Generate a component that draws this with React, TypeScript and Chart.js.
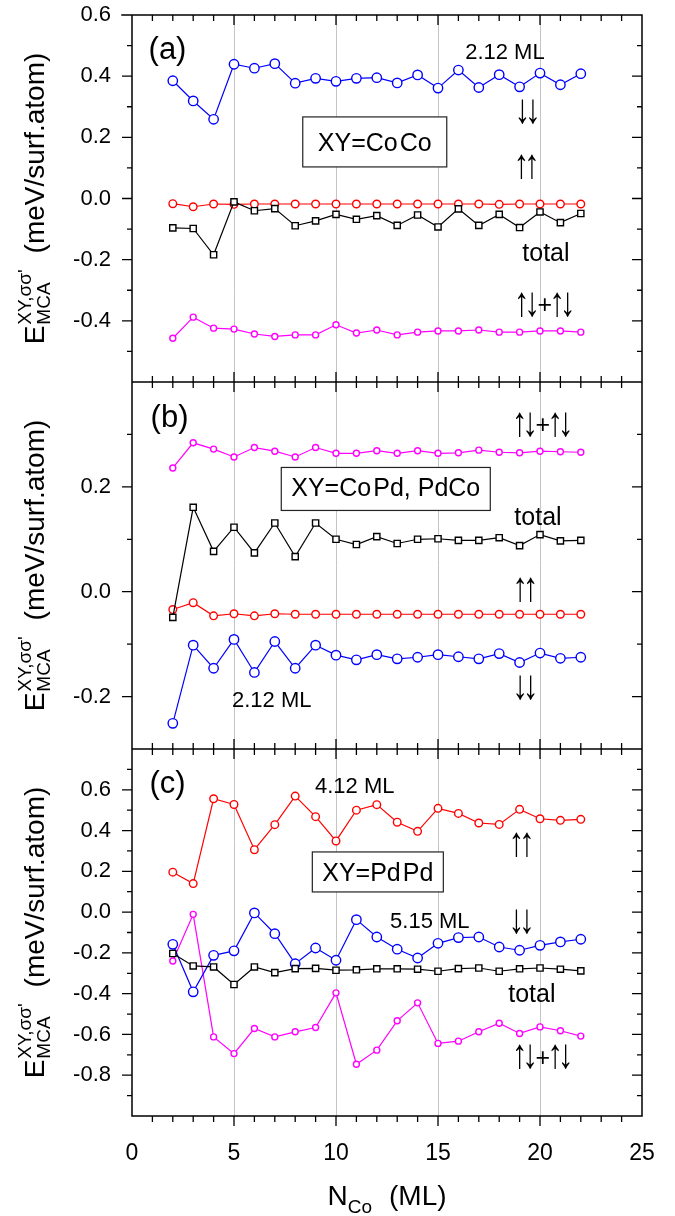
import { useEffect, useRef } from "react";
import { Chart, registerables } from "chart.js";

Chart.register(...registerables);

const FONT = '"Liberation Sans", Arial, Helvetica, sans-serif';

// ---------------- data ----------------
const nCo = [2, 3, 4, 5, 6, 7, 8, 9, 10, 11, 12, 13, 14, 15, 16, 17, 18, 19, 20, 21, 22];

// (a) XY = CoCo
const coCoDownDown = [0.385, 0.319, 0.259, 0.439, 0.426, 0.441, 0.377, 0.393, 0.383, 0.393, 0.395, 0.378, 0.404, 0.361, 0.42, 0.363, 0.405, 0.365, 0.41, 0.372, 0.408];
const coCoUpUp = [-0.017, -0.027, -0.018, -0.019, -0.018, -0.018, -0.018, -0.018, -0.018, -0.018, -0.018, -0.018, -0.018, -0.018, -0.018, -0.018, -0.019, -0.018, -0.018, -0.018, -0.018];
const coCoTotal = [-0.096, -0.098, -0.184, -0.011, -0.04, -0.033, -0.089, -0.073, -0.052, -0.068, -0.056, -0.088, -0.054, -0.093, -0.034, -0.088, -0.052, -0.095, -0.044, -0.079, -0.049];
const coCoMixed = [-0.457, -0.388, -0.424, -0.427, -0.443, -0.451, -0.446, -0.446, -0.413, -0.44, -0.43, -0.446, -0.437, -0.433, -0.433, -0.43, -0.437, -0.437, -0.433, -0.433, -0.437];

// (b) XY = CoPd, PdCo
const coPdMixed = [0.236, 0.284, 0.272, 0.257, 0.275, 0.268, 0.257, 0.275, 0.264, 0.264, 0.269, 0.264, 0.269, 0.264, 0.265, 0.27, 0.266, 0.265, 0.268, 0.267, 0.266];
const coPdTotal = [-0.049, 0.161, 0.077, 0.123, 0.074, 0.131, 0.067, 0.131, 0.1, 0.09, 0.105, 0.092, 0.1, 0.101, 0.098, 0.098, 0.103, 0.088, 0.109, 0.097, 0.098];
const coPdUpUp = [-0.034, -0.021, -0.046, -0.042, -0.046, -0.042, -0.043, -0.043, -0.043, -0.043, -0.043, -0.043, -0.043, -0.043, -0.043, -0.043, -0.043, -0.043, -0.043, -0.043, -0.043];
const coPdDownDown = [-0.251, -0.102, -0.146, -0.091, -0.154, -0.095, -0.146, -0.102, -0.121, -0.13, -0.12, -0.128, -0.125, -0.12, -0.124, -0.128, -0.118, -0.135, -0.117, -0.127, -0.125];

// (c) XY = PdPd
const pdPdUpUp = [0.196, 0.14, 0.556, 0.528, 0.306, 0.429, 0.569, 0.468, 0.349, 0.5, 0.527, 0.441, 0.396, 0.509, 0.484, 0.437, 0.43, 0.504, 0.458, 0.45, 0.455];
const pdPdDownDown = [-0.158, -0.391, -0.212, -0.19, -0.004, -0.106, -0.253, -0.176, -0.236, -0.037, -0.122, -0.182, -0.225, -0.153, -0.125, -0.122, -0.171, -0.187, -0.163, -0.146, -0.133];
const pdPdTotal = [-0.203, -0.264, -0.269, -0.355, -0.269, -0.297, -0.277, -0.276, -0.285, -0.283, -0.278, -0.278, -0.28, -0.29, -0.277, -0.274, -0.29, -0.278, -0.274, -0.28, -0.288];
const pdPdMixed = [-0.24, -0.011, -0.612, -0.694, -0.571, -0.612, -0.587, -0.566, -0.396, -0.746, -0.677, -0.533, -0.445, -0.644, -0.633, -0.587, -0.545, -0.595, -0.563, -0.582, -0.608];

// tick labels
const xTickLabels = ["0", "5", "10", "15", "20", "25"];
const aTickLabels = ["0.6", "0.4", "0.2", "0.0", "-0.2", "-0.4"];
const bTickLabels = ["0.2", "0.0", "-0.2"];
const cTickLabels = ["0.6", "0.4", "0.2", "0.0", "-0.2", "-0.4", "-0.6", "-0.8"];

// axis ranges
const xRange = [0, 25];
const aRange = [-0.6, 0.6];
const bRange = [-0.3, 0.4];
const cRange = [-1.0, 0.8];

// axis titles
const yTitleMain = "E";
const yTitleSub = "MCA";
const yTitleSup = "XY,\u03C3\u03C3'";
const yTitleUnit = "(meV/surf.atom)";
const xTitleMain = "N";
const xTitleSub = "Co";
const xTitleUnit = "(ML)";

// ---------------- styling ----------------
const BLUE = "#0000ff";
const RED = "#ff0000";
const MAGENTA = "#ff00ff";
const BLACK = "#000000";

const ARROW_INK_HEIGHT = 25;
const ARROW_INK_WIDTH = 7.5;
const ARROW_ADVANCE = 10.5;

type PanelId = "ya" | "yb" | "yc";

type Ann = {
  panel: PanelId;
  x: number;
  y: number;
  text: string;
  kind: "text" | "box";
  size: number;
  w?: number;
  h?: number;
};

const annotations: Ann[] = [
  { panel: "ya", x: 1.74, y: 0.482, text: "(a)", kind: "text", size: 31 },
  { panel: "ya", x: 18.28, y: 0.482, text: "2.12 ML", kind: "text", size: 22 },
  { panel: "ya", x: 11.9, y: 0.185, text: "XY=Co\u200ACo", kind: "box", size: 25, w: 144, h: 50 },
  { panel: "ya", x: 19.4, y: 0.283, text: "\u2193\u2193", kind: "text", size: 25 },
  { panel: "ya", x: 19.36, y: 0.103, text: "\u2191\u2191", kind: "text", size: 25 },
  { panel: "ya", x: 20.29, y: -0.172, text: "total", kind: "text", size: 25 },
  { panel: "ya", x: 20.24, y: -0.348, text: "\u2191\u2193+\u2191\u2193", kind: "text", size: 25 },

  { panel: "yb", x: 1.84, y: 0.329, text: "(b)", kind: "text", size: 31 },
  { panel: "yb", x: 20.14, y: 0.318, text: "\u2191\u2193+\u2191\u2193", kind: "text", size: 25 },
  { panel: "yb", x: 12.44, y: 0.196, text: "XY=Co\u200APd, PdCo", kind: "box", size: 25, w: 209, h: 43 },
  { panel: "yb", x: 19.9, y: 0.146, text: "total", kind: "text", size: 25 },
  { panel: "yb", x: 19.3, y: 0.003, text: "\u2191\u2191", kind: "text", size: 25 },
  { panel: "yb", x: 19.3, y: -0.184, text: "\u2193\u2193", kind: "text", size: 25 },
  { panel: "yb", x: 6.85, y: -0.205, text: "2.12 ML", kind: "text", size: 22 },

  { panel: "yc", x: 1.74, y: 0.623, text: "(c)", kind: "text", size: 31 },
  { panel: "yc", x: 10.92, y: 0.619, text: "4.12 ML", kind: "text", size: 22 },
  { panel: "yc", x: 19.11, y: 0.329, text: "\u2191\u2191", kind: "text", size: 25 },
  { panel: "yc", x: 12.05, y: 0.197, text: "XY=Pd\u200APd", kind: "box", size: 25, w: 131, h: 40 },
  { panel: "yc", x: 14.6, y: -0.039, text: "5.15 ML", kind: "text", size: 22 },
  { panel: "yc", x: 19.11, y: -0.048, text: "\u2193\u2193", kind: "text", size: 25 },
  { panel: "yc", x: 19.6, y: -0.392, text: "total", kind: "text", size: 25 },
  { panel: "yc", x: 20.14, y: -0.711, text: "\u2191\u2193+\u2191\u2193", kind: "text", size: 25 },
];

function series(values: number[], axis: PanelId, color: string, style: string, radius: number) {
  return {
    data: nCo.map((x, i) => ({ x, y: values[i] })),
    yAxisID: axis,
    borderColor: color,
    backgroundColor: "#ffffff",
    borderWidth: 1.2,
    pointStyle: style,
    pointRadius: radius,
    pointBorderWidth: 1.4,
    pointBorderColor: color,
    pointBackgroundColor: "#ffffff",
    tension: 0,
    fill: false,
  };
}

function fmt(v: number) {
  if (Math.abs(v) < 1e-9) return "0.0";
  return v.toFixed(1);
}

function yScale(range: number[], labels: string[], weight: number) {
  return {
    type: "linear",
    position: "left",
    stack: "panels",
    stackWeight: 1,
    weight,
    min: range[0],
    max: range[1],
    ticks: {
      stepSize: 0.1,
      autoSkip: false,
      maxTicksLimit: 40,
      padding: 21,
      color: "#000",
      font: { family: FONT, size: 22 },
      callback: (v: number) => {
        const s = fmt(Number(v));
        return labels.includes(s) ? s : "";
      },
    },
    grid: { display: false, drawTicks: false },
    border: { display: false },
    afterFit: (s: any) => {
      s.width = 132;
      s.paddingTop = 0;
      s.paddingBottom = 0;
    },
  };
}

function isArrow(ch: string) {
  return ch === "\u2191" || ch === "\u2193";
}

// draws a label whose ink is centred on (px, py); arrow glyphs are drawn tall and narrow
function drawLabel(ctx: CanvasRenderingContext2D, text: string, px: number, py: number, size: number) {
  ctx.save();
  ctx.textAlign = "left";
  ctx.textBaseline = "alphabetic";
  ctx.font = `100px ${FONT}`;
  const ref = ctx.measureText("\u2191");
  const refH = ref.actualBoundingBoxAscent + ref.actualBoundingBoxDescent;
  const refW = ref.actualBoundingBoxLeft + ref.actualBoundingBoxRight;
  const arrowSize = (ARROW_INK_HEIGHT / refH) * 100;
  const arrowScale = ARROW_INK_WIDTH / ((refW * arrowSize) / 100);

  const runs: { arrow: boolean; s: string }[] = [];
  for (const ch of text) {
    const a = isArrow(ch);
    const last = runs[runs.length - 1];
    if (a || !last || last.arrow) runs.push({ arrow: a, s: ch });
    else last.s += ch;
  }
  const items = runs.map((r) => {
    const font = `${r.arrow ? arrowSize : size}px ${FONT}`;
    ctx.font = font;
    const m = ctx.measureText(r.s);
    const w = r.arrow ? ARROW_ADVANCE : m.width;
    const base = py + (m.actualBoundingBoxAscent - m.actualBoundingBoxDescent) / 2;
    const inkMid = (m.actualBoundingBoxRight - m.actualBoundingBoxLeft) / 2;
    return { ...r, font, w, base, inkMid };
  });
  const total = items.reduce((s, it) => s + it.w, 0);
  let x = px - total / 2;
  for (const it of items) {
    ctx.font = it.font;
    if (it.arrow) {
      ctx.save();
      ctx.translate(x + it.w / 2 - it.inkMid * arrowScale, it.base);
      ctx.scale(arrowScale, 1);
      ctx.fillText(it.s, 0, 0);
      ctx.restore();
    } else {
      ctx.fillText(it.s, x, it.base);
    }
    x += it.w;
  }
  ctx.restore();
}

function drawYTitle(ctx: CanvasRenderingContext2D, cx: number, cy: number) {
  const big = `28px ${FONT}`;
  const small = `19px ${FONT}`;
  ctx.save();
  ctx.translate(cx, cy);
  ctx.rotate(-Math.PI / 2);
  ctx.fillStyle = "#000";
  ctx.textAlign = "left";
  ctx.textBaseline = "alphabetic";
  ctx.font = big;
  const wE = ctx.measureText(yTitleMain).width;
  const wUnit = ctx.measureText(yTitleUnit).width;
  ctx.font = small;
  const wSub = ctx.measureText(yTitleSub).width;
  const wSup = ctx.measureText(yTitleSup).width;
  const wBlock = Math.max(wSub, wSup);
  const gap = 16;
  const total = wE + 1 + wBlock + gap + wUnit;
  let x = -total / 2;
  ctx.font = big;
  ctx.fillText(yTitleMain, x, 0);
  x += wE + 1;
  ctx.font = small;
  ctx.fillText(yTitleSup, x, -13);
  ctx.fillText(yTitleSub, x, 6);
  x += wBlock + gap;
  ctx.font = big;
  ctx.fillText(yTitleUnit, x, 0);
  ctx.restore();
}

function drawXTitle(ctx: CanvasRenderingContext2D, cx: number, baseline: number) {
  const big = `28px ${FONT}`;
  const small = `19px ${FONT}`;
  ctx.save();
  ctx.fillStyle = "#000";
  ctx.textAlign = "left";
  ctx.textBaseline = "alphabetic";
  ctx.font = big;
  const wN = ctx.measureText(xTitleMain).width;
  const wUnit = ctx.measureText(xTitleUnit).width;
  ctx.font = small;
  const wSub = ctx.measureText(xTitleSub).width;
  const gap = 17;
  const total = wN + wSub + gap + wUnit;
  let x = cx - total / 2;
  ctx.font = big;
  ctx.fillText(xTitleMain, x, baseline);
  x += wN;
  ctx.font = small;
  ctx.fillText(xTitleSub, x, baseline + 8);
  x += wSub + gap;
  ctx.font = big;
  ctx.fillText(xTitleUnit, x, baseline);
  ctx.restore();
}

const framePlugin = {
  id: "frame",
  afterDatasetsDraw(chart: any) {
    const ctx: CanvasRenderingContext2D = chart.ctx;
    const { left, right } = chart.chartArea;
    const xs = chart.scales.x;
    const ids: PanelId[] = ["ya", "yb", "yc"];
    const scales = ids.map((id) => chart.scales[id]);
    const tops = scales.map((s: any) => s.top);
    const bottom = scales[2].bottom;
    ctx.save();
    ctx.strokeStyle = "#000";
    ctx.lineCap = "square";
    ctx.lineWidth = 1.5;
    ctx.beginPath();
    ctx.moveTo(left, tops[0]);
    ctx.lineTo(left, bottom);
    ctx.moveTo(right, tops[0]);
    ctx.lineTo(right, bottom);
    ctx.moveTo(left - 10, tops[0]);
    ctx.lineTo(right, tops[0]);
    ctx.moveTo(left, tops[1]);
    ctx.lineTo(right, tops[1]);
    ctx.moveTo(left, tops[2]);
    ctx.lineTo(right, tops[2]);
    ctx.moveTo(left, bottom);
    ctx.lineTo(right, bottom);
    ctx.stroke();

    ctx.lineWidth = 1.3;
    ctx.lineCap = "butt";
    ctx.beginPath();
    // y ticks: outward on the left, inward on the right
    scales.forEach((s: any) => {
      const k0 = Math.round(s.min * 10) + 1;
      const k1 = Math.round(s.max * 10) - 1;
      for (let k = k0; k <= k1; k++) {
        const py = s.getPixelForValue(k / 10);
        const major = k % 2 === 0;
        const len = major ? 10 : 5;
        ctx.moveTo(left, py);
        ctx.lineTo(left - len, py);
        ctx.moveTo(right, py);
        ctx.lineTo(right - len, py);
      }
    });
    // x ticks
    for (let k = Math.round(xs.min) + 1; k < Math.round(xs.max); k++) {
      const px = xs.getPixelForValue(k);
      const major = k % 5 === 0;
      const len = major ? 10 : 6;
      ctx.moveTo(px, tops[0]);
      ctx.lineTo(px, tops[0] + len);
      for (const y of [tops[1], tops[2]]) {
        ctx.moveTo(px, y - len);
        ctx.lineTo(px, y + len);
      }
      ctx.moveTo(px, bottom);
      ctx.lineTo(px, bottom + len);
    }
    ctx.stroke();
    ctx.restore();
  },
  afterDraw(chart: any) {
    const ctx: CanvasRenderingContext2D = chart.ctx;
    const { left, right } = chart.chartArea;
    const xs = chart.scales.x;
    ctx.save();
    ctx.fillStyle = "#000";
    for (const a of annotations) {
      const px = xs.getPixelForValue(a.x);
      const py = chart.scales[a.panel].getPixelForValue(a.y);
      if (a.kind === "box") {
        const w = a.w || 100;
        const h = a.h || 40;
        ctx.fillStyle = "#fff";
        ctx.fillRect(px - w / 2, py - h / 2, w, h);
        ctx.lineWidth = 1.2;
        ctx.strokeStyle = "#222";
        ctx.strokeRect(px - w / 2, py - h / 2, w, h);
        ctx.fillStyle = "#000";
      }
      drawLabel(ctx, a.text, px, py, a.size);
    }
    ctx.restore();

    ["ya", "yb", "yc"].forEach((id) => {
      const s = chart.scales[id];
      drawYTitle(ctx, 44, (s.top + s.bottom) / 2);
    });
    drawXTitle(ctx, (left + right) / 2, 1205);
  },
};

export default function App() {
  const ref = useRef<HTMLCanvasElement>(null);
  useEffect(() => {
    const canvas = ref.current;
    if (!canvas) return;
    const chart = new Chart(canvas, {
      type: "line",
      data: {
        datasets: [
          series(coCoTotal, "ya", BLACK, "rect", 4.4),
          series(coCoUpUp, "ya", RED, "circle", 3.8),
          series(coCoDownDown, "ya", BLUE, "circle", 4.7),
          series(coCoMixed, "ya", MAGENTA, "circle", 3.0),
          series(coPdTotal, "yb", BLACK, "rect", 4.4),
          series(coPdUpUp, "yb", RED, "circle", 3.8),
          series(coPdDownDown, "yb", BLUE, "circle", 4.7),
          series(coPdMixed, "yb", MAGENTA, "circle", 3.0),
          series(pdPdTotal, "yc", BLACK, "rect", 4.4),
          series(pdPdUpUp, "yc", RED, "circle", 3.8),
          series(pdPdDownDown, "yc", BLUE, "circle", 4.7),
          series(pdPdMixed, "yc", MAGENTA, "circle", 3.0),
        ] as any,
      },
      options: {
        animation: false,
        responsive: false,
        devicePixelRatio: 1,
        layout: { padding: { top: 15, right: 33, bottom: 0, left: 0 } },
        plugins: { legend: { display: false }, tooltip: { enabled: false } },
        scales: {
          x: {
            type: "linear",
            position: "bottom",
            min: xRange[0],
            max: xRange[1],
            ticks: {
              stepSize: 5,
              padding: 24,
              color: "#000",
              font: { family: FONT, size: 23 },
              callback: (v: number) => {
                const s = String(Math.round(Number(v)));
                return xTickLabels.includes(s) ? s : "";
              },
            },
            grid: {
              drawTicks: false,
              lineWidth: 1,
              color: (c: any) =>
                c.tick && (c.tick.value === xRange[0] || c.tick.value === xRange[1])
                  ? "rgba(0,0,0,0)"
                  : "#c4c4c4",
            },
            border: { display: false },
            afterFit: (s: any) => {
              s.height = 100;
              s.paddingLeft = 0;
              s.paddingRight = 0;
            },
          },
          ya: yScale(aRange, aTickLabels, 3),
          yb: yScale(bRange, bTickLabels, 2),
          yc: yScale(cRange, cTickLabels, 1),
        } as any,
      },
      plugins: [framePlugin],
    });
    return () => chart.destroy();
  }, []);
  return (
    <div style={{ position: "fixed", left: 0, top: 0, width: 675, height: 1216, background: "#fff" }}>
      <canvas ref={ref} width={675} height={1216} style={{ display: "block", width: 675, height: 1216 }} />
    </div>
  );
}
